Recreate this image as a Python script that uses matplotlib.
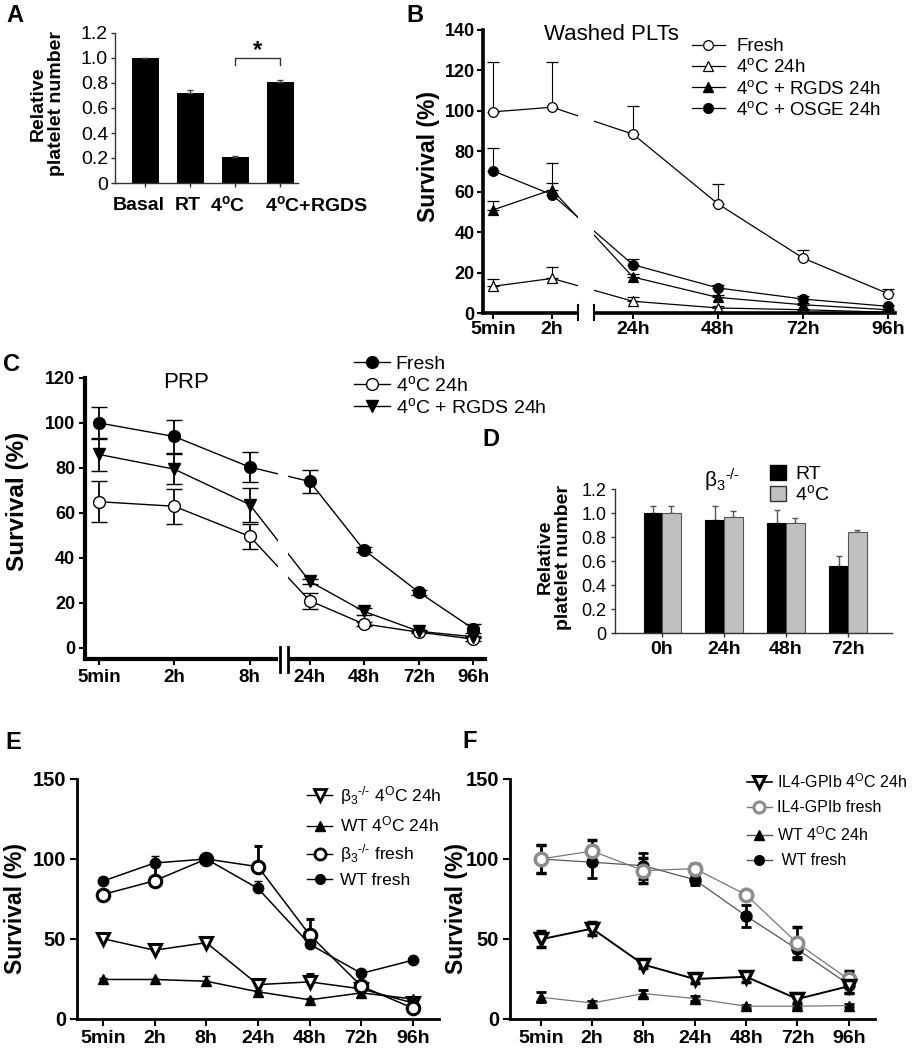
import matplotlib
matplotlib.use("Agg")
import matplotlib.pyplot as plt
import matplotlib.transforms as mtrans
from matplotlib.patches import Rectangle
from matplotlib.lines import Line2D

plt.rcParams['font.family'] = ['Liberation Sans', 'DejaVu Sans']
plt.rcParams['mathtext.fontset'] = 'custom'
plt.rcParams['mathtext.rm'] = 'Liberation Sans'
plt.rcParams['mathtext.it'] = 'Liberation Sans:italic'
plt.rcParams['mathtext.bf'] = 'Liberation Sans:bold'

BETA3 = "\u03b2$_{\\mathrm{3}}$$^{\\mathrm{\u2010/\u2010}}$"

# ---- Panel A: relative platelet number
A_labels = ["Basal", "RT", r"4$^{\mathbf{o}}$C", r"4$^{\mathbf{o}}$C+RGDS"]
A_vals = [1.0, 0.72, 0.21, 0.81]
A_err = [0.0, 0.025, 0.008, 0.015]

# ---- Panel B: washed PLTs survival (upper error only)
B_times = ["5min", "2h", "24h", "48h", "72h", "96h"]
B_fresh = [99.5, 101.8, 88.5, 54, 27.2, 9.6]
B_fresh_err = [24.5, 22.2, 14, 10, 3.8, 2.3]
B_cold = [13.2, 17.1, 5.8, 2.5, 1.6, 0.4]
B_cold_err = [3.6, 5.6, 1.9, 0.8, 0.5, 0.3]
B_rgds = [51, 61, 17.8, 7.7, 4.1, 1.6]
B_rgds_err = [4.5, 3.2, 1.5, 1.2, 0.8, 0.4]
B_osge = [70.3, 58.5, 23.9, 12.4, 6.9, 3.3]
B_osge_err = [11.2, 15.5, 2.8, 1.6, 1.4, 0.8]

# ---- Panel C: PRP survival
C_times = ["5min", "2h", "8h", "24h", "48h", "72h", "96h"]
C_fresh = [100, 94, 80.4, 74, 43.7, 24.7, 8.6]
C_fresh_err = [7, 7.5, 6.5, 5, 1, 1, 2]
C_cold = [65, 63, 49.6, 21, 10.7, 7, 4]
C_cold_err = [9, 7.8, 5.5, 3.5, 1, 0.5, 1]
C_rgds = [86, 79.5, 63.7, 29.6, 16.3, 7.4, 5]
C_rgds_err = [7.5, 6.5, 7.5, 1, 1.5, 0.5, 0.5]

# ---- Panel D: beta3-/- relative platelet number
D_times = ["0h", "24h", "48h", "72h"]
D_rt = [1.0, 0.94, 0.914, 0.56]
D_rt_err = [0.055, 0.115, 0.115, 0.085]
D_cold = [1.0, 0.97, 0.914, 0.84]
D_cold_err = [0.055, 0.05, 0.045, 0.02]

# ---- Panel E
E_times = ["5min", "2h", "8h", "24h", "48h", "72h", "96h"]
E_b3cold = [50.2, 43, 47.7, 21.5, 23.2, 18.8, 10]
E_b3cold_err = [1, 1, 1, 2.5, 5, 1, 1]
E_wtcold = [24.7, 24.7, 23.6, 17, 12, 16.3, 12.5]
E_wtcold_err = [1, 0.5, 3.5, 1, 1, 1, 0.5]
E_b3fresh = [77.8, 86.4, 100, 95.2, 52.5, 20.5, 6.7]
E_b3fresh_err = [1, 11, 0, 13, 10, 1, 1]
E_wtfresh = [86.2, 97.5, 100, 81.6, 46.7, 28.5, 36.8]
E_wtfresh_err = [2.5, 4.5, 0, 4.5, 1, 0.5, 0.5]

# ---- Panel F
F_times = ["5min", "2h", "8h", "24h", "48h", "72h", "96h"]
F_il4cold = [49.8, 56.5, 34, 25, 26.4, 12.5, 20.5]
F_il4cold_err = [5, 4, 2, 2.5, 3, 2.5, 4]
F_il4fresh = [100, 105, 92.7, 94, 77.6, 47.3, 24.7]
F_il4fresh_err = [9, 7, 8, 3, 2, 10, 5]
F_wtcold = [13.6, 10, 15.9, 12.8, 8, 8, 8.4]
F_wtcold_err = [3, 1.5, 2, 1.5, 1, 1, 1]
F_wtfresh = [100, 98, 95.8, 87, 64.4, 43.5, 21.5]
F_wtfresh_err = [9, 10, 8, 3, 7, 5, 5]

W, H = 915, 1050
fig = plt.figure(figsize=(W / 100, H / 100), dpi=100)


def rect(l, t, r, b):
    return [l / W, 1 - b / H, (r - l) / W, (b - t) / H]


def style_axis(ax, lw, color="black"):
    for s in ("top", "right"):
        ax.spines[s].set_visible(False)
    for s in ("left", "bottom"):
        ax.spines[s].set_linewidth(lw)
        ax.spines[s].set_color(color)


def legend_at(handles, labels, x, y, fs, hl, htp, ls, **kw):
    fig.legend(handles, labels, loc="upper left", bbox_to_anchor=(x / W, 1 - y / H),
               frameon=False, fontsize=fs, handlelength=hl, handletextpad=htp,
               labelspacing=ls, borderpad=0, borderaxespad=0, **kw)


def mk(marker, mfc="black", mec="black", ms=7, mew=1, color="black", lw=1):
    return Line2D([], [], color=color, lw=lw, marker=marker, mfc=mfc, mec=mec, ms=ms, mew=mew)


def fig_label(x, y, s):
    fig.text(x / W, 1 - y / H, s, fontsize=17, fontweight="bold", ha="left", va="top")


# ================= Panel A =================
axA = fig.add_axes(rect(115, 33, 298, 183))
xa = list(range(len(A_vals)))
axA.bar(xa, A_vals, width=0.6, color="black", zorder=2)
axA.errorbar(xa, A_vals, yerr=[[0] * len(A_vals), A_err], fmt="none", ecolor="#444",
             elinewidth=1, capsize=2, zorder=3)
axA.set_xlim(-0.667, 3.4)
axA.set_ylim(0, 1.2)
style_axis(axA, 1, "#333")
axA.set_yticks([0, 0.2, 0.4, 0.6, 0.8, 1.0, 1.2])
axA.set_yticklabels(["0", "0.2", "0.4", "0.6", "0.8", "1.0", "1.2"], fontsize=14)
axA.set_xticks(xa)
axA.set_xticklabels([""] * len(xa))
axA.tick_params(length=3, width=1, color="#333", pad=2)
trA = mtrans.blended_transform_factory(axA.transData, fig.transFigure)
for xpos, lab, ha in zip([-0.13, 0.955, 1.84, 2.67], A_labels, ["center", "center", "center", "left"]):
    axA.text(xpos, 1 - 205 / H, lab, transform=trA, ha=ha, va="center",
             fontsize=14, fontweight="bold")
axA.plot([2, 2, 3, 3], [0.945, 1.0, 1.0, 0.945], color="#333", lw=1)
axA.text(2.5, 1.06, "*", ha="center", va="center", fontsize=17, fontweight="bold")
fig.text(47 / W, 1 - 104 / H, "Relative\nplatelet number", rotation=90, ha="center",
         va="center", fontsize=14, fontweight="bold", multialignment="center", linespacing=1.1)

# ================= Panel B =================
axB = fig.add_axes(rect(483, 30, 895, 313))
xB = [0, 1, 2.37, 3.81, 5.25, 6.69]
nB = len(xB)
zB = [0] * nB
for vals, err, m, face in [(B_fresh, B_fresh_err, "o", "white"),
                           (B_cold, B_cold_err, "^", "white"),
                           (B_rgds, B_rgds_err, "^", "black"),
                           (B_osge, B_osge_err, "o", "black")]:
    axB.errorbar(xB, vals, yerr=[zB, err], fmt="-", marker=m, color="black", mfc=face,
                 mec="black", ms=7, mew=0.9, lw=0.9, elinewidth=0.8, capsize=4, capthick=0.8)
axB.set_xlim(-0.17, 6.81)
axB.set_ylim(0, 140)
style_axis(axB, 2.6)
axB.set_yticks(range(0, 141, 20))
axB.set_yticklabels([str(v) for v in range(0, 141, 20)], fontsize=13, fontweight="bold")
axB.set_xticks(xB)
axB.set_xticklabels(B_times, fontsize=14, fontweight="bold")
axB.tick_params(length=4, width=1.5, pad=2)
trB = mtrans.blended_transform_factory(axB.transData, axB.transAxes)
axB.add_patch(Rectangle((1.44, -0.05), 0.27, 0.83, transform=trB, facecolor="white",
                        edgecolor="none", zorder=5, clip_on=False))
for bx in (1.44, 1.71):
    axB.plot([bx, bx], [-0.025, 0.028], transform=trB, color="black", lw=1.5,
             zorder=6, clip_on=False)
fig.text(611 / W, 1 - 35 / H, "Washed PLTs", ha="center", va="center", fontsize=16)
fig.text(429 / W, 1 - 156 / H, "Survival (%)", rotation=90, ha="center", va="center",
         fontsize=16.5, fontweight="bold")
legend_at([mk("o", "white", ms=7, mew=0.9, lw=0.9), mk("^", "white", ms=7, mew=0.9, lw=0.9),
           mk("^", ms=7, lw=0.9), mk("o", ms=7, lw=0.9)],
          ["Fresh", r"4$^{\mathrm{o}}$C 24h", r"4$^{\mathrm{o}}$C + RGDS 24h",
           r"4$^{\mathrm{o}}$C + OSGE 24h"],
          692, 38, 13.5, 1.75, 0.6, 0.17)

# ================= Panel C =================
axC = fig.add_axes(rect(85, 378, 485, 659))
xC = [0, 1, 2.01, 2.81, 3.53, 4.27, 4.99]
for vals, err, m, face in [(C_fresh, C_fresh_err, "o", "black"),
                           (C_cold, C_cold_err, "o", "white"),
                           (C_rgds, C_rgds_err, "v", "black")]:
    axC.errorbar(xC, vals, yerr=err, fmt="-", marker=m, color="black", mfc=face,
                 mec="black", ms=8.5, mew=1, lw=1, elinewidth=1.3, capsize=6, capthick=1.3)
axC.set_xlim(-0.19, 5.15)
axC.set_ylim(-4.9, 120)
style_axis(axC, 3)
axC.set_yticks(range(0, 121, 20))
axC.set_yticklabels([str(v) for v in range(0, 121, 20)], fontsize=13, fontweight="bold")
axC.set_xticks(xC)
axC.set_xticklabels(C_times, fontsize=13.5, fontweight="bold")
axC.tick_params(length=4, width=1.5, pad=3)
trC = mtrans.blended_transform_factory(axC.transData, axC.transAxes)
axC.add_patch(Rectangle((2.39, -0.06), 0.13, 0.86, transform=trC, facecolor="white",
                        edgecolor="none", zorder=5, clip_on=False))
for bx in (2.41, 2.52):
    axC.plot([bx, bx], [-0.046, 0.043], transform=trC, color="black", lw=2,
             zorder=6, clip_on=False)
fig.text(186 / W, 1 - 382 / H, "PRP", ha="center", va="center", fontsize=16)
fig.text(18 / W, 1 - 501 / H, "Survival (%)", rotation=90, ha="center", va="center",
         fontsize=17.5, fontweight="bold")
legend_at([mk("o", ms=8.5, lw=1), mk("o", "white", ms=8.5, lw=1), mk("v", ms=8.5, lw=1)],
          ["Fresh", r"4$^{\mathrm{o}}$C 24h", r"4$^{\mathrm{o}}$C + RGDS 24h"],
          354, 355, 14, 1.85, 0.3, 0.1)

# ================= Panel D =================
axD = fig.add_axes(rect(615, 489, 892, 633))
xD = list(range(len(D_times)))
xD_rt = [x - 0.15 for x in xD]
xD_cold = [x + 0.15 for x in xD]
axD.bar(xD_rt, D_rt, width=0.3, color="black", edgecolor="black", lw=0.8, zorder=2)
axD.bar(xD_cold, D_cold, width=0.3, color="#c0c0c0", edgecolor="#555", lw=0.8, zorder=2)
axD.errorbar(xD_rt, D_rt, yerr=[[0] * 4, D_rt_err], fmt="none", ecolor="#555",
             elinewidth=1, capsize=2, zorder=1)
axD.errorbar(xD_cold, D_cold, yerr=[[0] * 4, D_cold_err], fmt="none", ecolor="#555",
             elinewidth=1, capsize=2, zorder=1)
axD.set_xlim(-0.76, 3.71)
axD.set_ylim(0, 1.2)
style_axis(axD, 1, "#333")
axD.set_yticks([0, 0.2, 0.4, 0.6, 0.8, 1.0, 1.2])
axD.set_yticklabels(["0", "0.2", "0.4", "0.6", "0.8", "1.0", "1.2"], fontsize=13)
axD.set_xticks(xD)
axD.set_xticklabels(D_times, fontsize=14, fontweight="bold")
axD.tick_params(length=3, width=1, color="#333", pad=3)
fig.text(722 / W, 1 - 480 / H, BETA3, ha="center", va="center", fontsize=15)
fig.text(554 / W, 1 - 557 / H, "Relative\nplatelet number", rotation=90, ha="center",
         va="center", fontsize=14, fontweight="bold", multialignment="center", linespacing=1.1)
sq_rt = Rectangle((0, 0), 1, 1, facecolor="black", edgecolor="black")
sq_cold = Rectangle((0, 0), 1, 1, facecolor="#c0c0c0", edgecolor="#333")
legend_at([sq_rt, sq_cold], ["RT", r"4$^{\mathrm{o}}$C"], 770, 465, 14, 0.8, 0.5, 0.05,
          handleheight=0.8)

# ================= Panel E =================
axE = fig.add_axes(rect(77, 779, 439, 1019))
xE = list(range(len(E_times)))
zE = [0] * len(xE)
for vals, err, m, face, ms, mew in [(E_b3cold, E_b3cold_err, "v", "white", 9, 2.2),
                                    (E_wtcold, E_wtcold_err, "^", "black", 7, 1),
                                    (E_b3fresh, E_b3fresh_err, "o", "white", 9, 2.2),
                                    (E_wtfresh, E_wtfresh_err, "o", "black", 7.5, 1)]:
    axE.errorbar(xE, vals, yerr=[zE, err], fmt="-", marker=m, color="black", mfc=face,
                 mec="black", ms=ms, mew=mew, lw=1.1, elinewidth=2, capsize=3, capthick=2)
axE.set_xlim(-0.5, 6.5)
axE.set_ylim(0, 150)
style_axis(axE, 2)
axE.set_yticks([0, 50, 100, 150])
axE.set_yticklabels(["0", "50", "100", "150"], fontsize=14.5, fontweight="bold")
axE.set_xticks(xE)
axE.set_xticklabels(E_times, fontsize=14, fontweight="bold")
axE.tick_params(length=5, width=1.5, pad=3)
fig.text(16 / W, 1 - 909 / H, "Survival (%)", rotation=90, ha="center", va="center",
         fontsize=16.5, fontweight="bold")
legend_at([mk("v", "white", ms=8, mew=2), mk("^", ms=6.5), mk("o", "white", ms=8, mew=2),
           mk("o", ms=7)],
          [BETA3 + r" 4$^{\mathrm{O}}$C 24h", r"WT 4$^{\mathrm{O}}$C 24h",
           BETA3 + " fresh", "WT fresh"],
          307, 784, 12.5, 1.45, 0.45, 0.45)

# ================= Panel F =================
axF = fig.add_axes(rect(510, 779, 875, 1019))
xF = list(range(len(F_times)))
axF.errorbar(xF, F_wtcold, yerr=F_wtcold_err, fmt="-", marker="^", color="#777", mfc="black",
             mec="black", ms=7, lw=0.9, ecolor="black", elinewidth=2, capsize=3.5, capthick=2)
axF.errorbar(xF, F_wtfresh, yerr=F_wtfresh_err, fmt="-", marker="o", color="#555", mfc="black",
             mec="black", ms=8, lw=0.9, ecolor="black", elinewidth=2, capsize=3.5, capthick=2)
axF.errorbar(xF, F_il4fresh, yerr=F_il4fresh_err, fmt="-", marker="o", color="#777", mfc="white",
             mec="#8c8c8c", ms=9, mew=2.5, lw=0.9, ecolor="black", elinewidth=2, capsize=3.5,
             capthick=2)
axF.errorbar(xF, F_il4cold, yerr=F_il4cold_err, fmt="-", marker="v", color="black", mfc="white",
             mec="black", ms=9, mew=2.5, lw=1.4, ecolor="black", elinewidth=2, capsize=3.5,
             capthick=2)
axF.set_xlim(-0.6, 6.51)
axF.set_ylim(0, 150)
style_axis(axF, 2)
axF.set_yticks([0, 50, 100, 150])
axF.set_yticklabels(["0", "50", "100", "150"], fontsize=14.5, fontweight="bold")
axF.set_xticks(xF)
axF.set_xticklabels(F_times, fontsize=14, fontweight="bold")
axF.tick_params(length=5, width=1.5, pad=3)
fig.text(457 / W, 1 - 909 / H, "Survival (%)", rotation=90, ha="center", va="center",
         fontsize=16.5, fontweight="bold")
legend_at([mk("v", "white", ms=8, mew=2.2, lw=1.2),
           mk("o", "white", mec="#8c8c8c", ms=8, mew=2.2, color="#777"),
           mk("^", ms=6.5, color="#555"), mk("o", ms=7, color="#555")],
          [r"IL4-GPIb 4$^{\mathrm{O}}$C 24h", "IL4-GPIb fresh",
           r"WT 4$^{\mathrm{O}}$C 24h", " WT fresh"],
          747, 772, 11.5, 1.55, 0.3, 0.6)

fig_label(6, 4, "A")
fig_label(406, 4, "B")
fig_label(3, 353, "C")
fig_label(482, 428, "D")
fig_label(5, 731, "E")
fig_label(462, 730, "F")

fig.savefig("out.png", dpi=100)
